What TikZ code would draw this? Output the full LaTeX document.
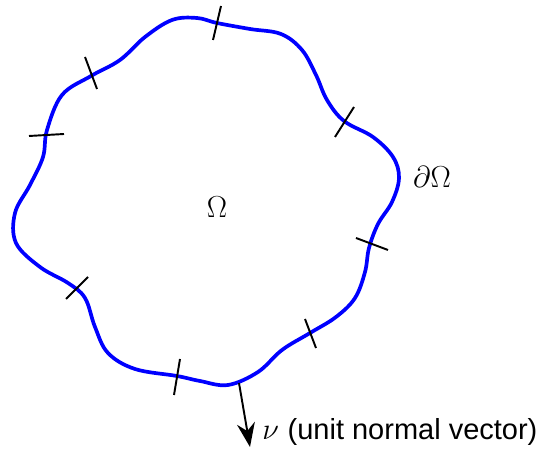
\documentclass[tikz,border=0pt]{standalone}
\usepackage{fontspec}
\setsansfont{Liberation Sans}
\usetikzlibrary{arrows.meta, positioning}

\begin{document}
\begin{tikzpicture}[
  x=0.02cm, y=-0.02cm,
  every node/.style={font=\fontsize{16.5}{20}\selectfont},
  boundary/.style={draw=blue, line width=2.1pt},
  tickmark/.style={draw=black, line width=1.1pt},
  normalarrow/.style={-{Stealth[length=0.48cm, width=0.36cm]}, black, line width=1.1pt},
]
\useasboundingbox (0,0) rectangle (545,455);

\draw[boundary] plot[smooth cycle, tension=0.6] coordinates {
  (145,37) (172,20) (197,18) (217,23) (250,29) (281,34) (302,50) (316,75)
  (327,100) (344,121) (373,137) (393,157) (399,178) (392,202) (378,224)
  (369,248) (365,272) (355,298) (336,317) (310,333) (282,350) (258,372)
  (228,385) (200,381) (177,376) (135,369) (108,353) (95,327) (85,298)
  (68,283) (40,267) (16,243) (15,213) (30,185) (43,157) (47,130) (62,95)
  (91,76) (120,60)};

\foreach \xa/\ya/\xb/\yb in {213/40/221/6, 85/57/97/89, 29/136/64/134, 66/299/88/277,
  174/395/180/359, 305/319/316/348, 356/238/388/250, 335/137/354/107}
  \draw[tickmark] (\xa,\ya) -- (\xb,\yb);

\node (omega) at (217,207) {$\Omega$};
\node (bdry) at (432,177) {$\partial\Omega$};

\coordinate (nustart) at (239,383);
\coordinate (nutip) at (250,447);
\node[anchor=base west, inner sep=0pt] (nulabel) at (262,440) {$\nu$ \sffamily(unit normal vector)};
\draw[normalarrow] (nustart) -- (nutip);
\end{tikzpicture}
\end{document}
